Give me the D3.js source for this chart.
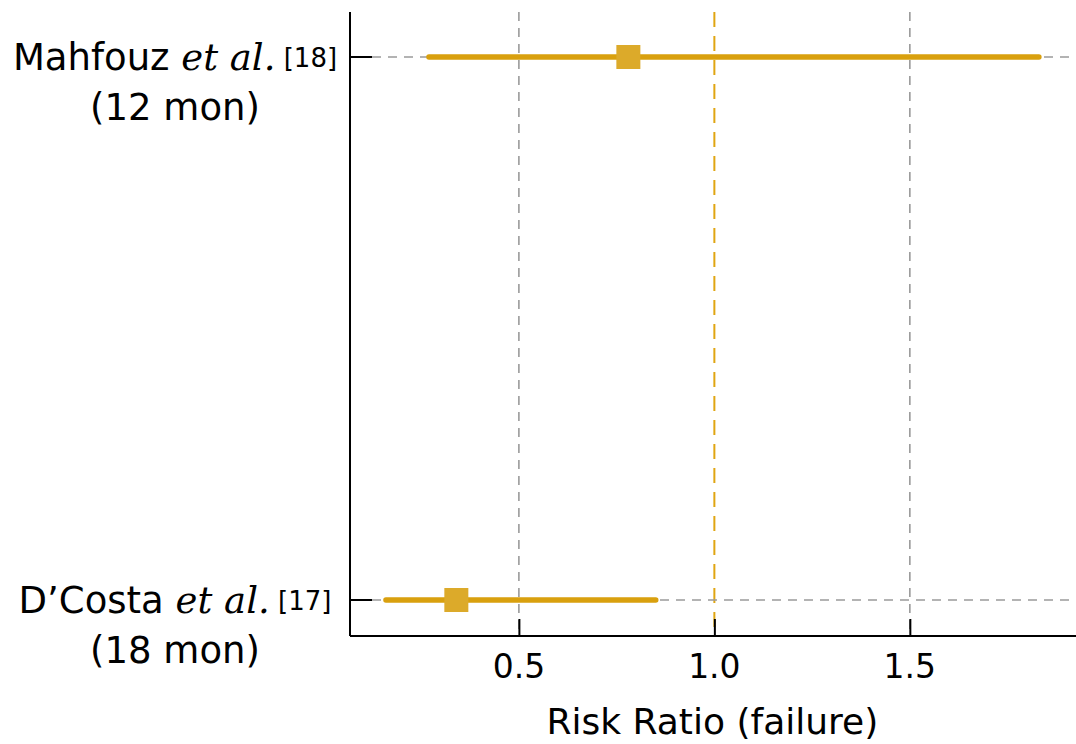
<!DOCTYPE html>
<head>
    <meta charset="utf-8">
    <script src="https://d3js.org/d3.v7.min.js"></script>
    <style>
        body { margin: 0; background: #fff; }
    </style>
</head>
<body>
    <div id="chart"></div>
    <script>
        // study data
        var studies = ["Mahfouz", "D\u2019Costa"]
        var refs = ["[18]", "[17]"]
        var followUp = ["(12 mon)", "(18 mon)"]
        var riskRatio = [0.78, 0.34]
        var lowerCI = [0.27, 0.16]
        var upperCI = [1.83, 0.85]
        var xTicks = [0.5, 1.0, 1.5]

        var W = 1076, H = 744
        var margin = { top: 12, right: 0, bottom: 108, left: 350 }
        var width = W - margin.left - margin.right
        var height = H - margin.top - margin.bottom

        var lineCol = "#d9a00e", boxCol = "#dcaa2a"

        var svg = d3.select("#chart").append("svg")
            .attr("width", W).attr("height", H)
        var g = svg.append("g")
            .attr("transform", "translate(" + margin.left + "," + margin.top + ")")

        var x = d3.scaleLinear().domain([0.068, 1.925]).range([0, width])
        var y = d3.scalePoint().domain(studies).range([45, 588])

        var rows = studies.map(function(s, i) {
            return { name: s, ref: refs[i], fu: followUp[i], rr: riskRatio[i], lo: lowerCI[i], hi: upperCI[i] }
        })

        // vertical grid at ticks (gray), reference line at 1 (orange)
        g.selectAll(".vgrid").data(xTicks).enter().append("line")
            .attr("x1", d => x(d)).attr("x2", d => x(d))
            .attr("y1", 0).attr("y2", height)
            .attr("stroke", d => d === 1 ? "#e0a512" : "#9a9a9a")
            .attr("stroke-width", d => d === 1 ? 2 : 1.6)
            .attr("stroke-dasharray", d => d === 1 ? "15,9" : "9,7")

        // horizontal dashed guide lines
        g.selectAll(".hgrid").data(rows).enter().append("line")
            .attr("x1", 22).attr("x2", width)
            .attr("y1", d => y(d.name)).attr("y2", d => y(d.name))
            .attr("stroke", "#9a9a9a").attr("stroke-width", 1.6)
            .attr("stroke-dasharray", "9,7")

        // axes, ticks drawn inward
        var xAxis = g.append("g").attr("transform", "translate(0," + height + ")")
            .call(d3.axisTop(x).tickValues(xTicks).tickSize(17).tickFormat(d3.format(".1f")))
        xAxis.select(".domain").remove()
        xAxis.selectAll("text").remove()
        xAxis.selectAll("line").attr("stroke", "#000").attr("stroke-width", 2)

        g.selectAll(".xlab").data(xTicks).enter().append("text")
            .attr("x", d => x(d)).attr("y", height + 42)
            .attr("text-anchor", "middle")
            .attr("font-family", "DejaVu Sans, sans-serif").attr("font-size", 33)
            .text(d3.format(".1f"))

        g.append("line").attr("x1", 0).attr("x2", width).attr("y1", height).attr("y2", height)
            .attr("stroke", "#000").attr("stroke-width", 2)
        g.append("line").attr("x1", 0).attr("x2", 0).attr("y1", 0).attr("y2", height)
            .attr("stroke", "#000").attr("stroke-width", 2)
        g.selectAll(".ytick").data(rows).enter().append("line")
            .attr("x1", 0).attr("x2", 22)
            .attr("y1", d => y(d.name)).attr("y2", d => y(d.name))
            .attr("stroke", "#000").attr("stroke-width", 2)

        // confidence intervals and point estimates
        g.selectAll(".ci").data(rows).enter().append("line")
            .attr("x1", d => x(d.lo)).attr("x2", d => x(d.hi))
            .attr("y1", d => y(d.name)).attr("y2", d => y(d.name))
            .attr("stroke", lineCol).attr("stroke-width", 5.5)
            .attr("stroke-linecap", "round")

        var box = 24
        g.selectAll(".pt").data(rows).enter().append("rect")
            .attr("x", d => x(d.rr) - box / 2).attr("y", d => y(d.name) - box / 2)
            .attr("width", box).attr("height", box)
            .attr("fill", boxCol)

        // y labels
        var lab = svg.selectAll(".ylab").data(rows).enter().append("g")
            .attr("transform", d => "translate(175," + (margin.top + y(d.name)) + ")")
        var t1 = lab.append("text").attr("y", 13).attr("text-anchor", "middle")
            .attr("font-family", "DejaVu Sans, sans-serif").attr("font-size", 37)
        t1.append("tspan").text(d => d.name + " ")
        t1.append("tspan").attr("font-family", "DejaVu Serif, serif").attr("font-style", "italic")
            .text("et al.")
        t1.append("tspan").attr("font-size", 26).attr("dy", -3).text(d => " " + d.ref)
        lab.append("text").attr("y", 63).attr("text-anchor", "middle")
            .attr("font-family", "DejaVu Sans, sans-serif").attr("font-size", 37)
            .text(d => d.fu)

        svg.append("text").attr("x", margin.left + x(1.0) - 2).attr("y", 734)
            .attr("text-anchor", "middle")
            .attr("font-family", "DejaVu Sans, sans-serif").attr("font-size", 36)
            .text("Risk Ratio (failure)")
    </script>
</body>
</html>
